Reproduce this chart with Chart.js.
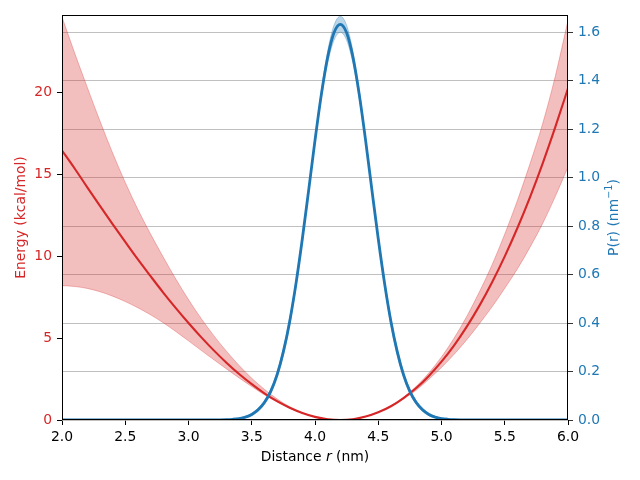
<!DOCTYPE html>
<html>
<head>
<meta charset="utf-8">
<script src="https://cdn.jsdelivr.net/npm/chart.js@4.4.1/dist/chart.umd.min.js"></script>
<style>
  body { margin: 0; background: #fff; }
  canvas { display: block; }
</style>
</head>
<body>
<canvas id="chart_pmf" width="640" height="480"></canvas>
<script>
// energy profile, sampled every 0.1 nm
const rValues = [2.0, 2.1, 2.2, 2.3, 2.4, 2.5, 2.6, 2.7, 2.8, 2.9,
                 3.0, 3.1, 3.2, 3.3, 3.4, 3.5, 3.6, 3.7, 3.8, 3.9,
                 4.0, 4.1, 4.2, 4.3, 4.4, 4.5, 4.6, 4.7, 4.8, 4.9,
                 5.0, 5.1, 5.2, 5.3, 5.4, 5.5, 5.6, 5.7, 5.8, 5.9, 6.0];
const energy = [16.45, 15.35, 14.20, 13.07, 11.96, 10.87, 9.80, 8.78, 7.78, 6.83,
                5.92, 5.06, 4.25, 3.50, 2.81, 2.19, 1.63, 1.15, 0.75, 0.43,
                0.19, 0.05, 0.00, 0.05, 0.21, 0.47, 0.84, 1.34, 1.95, 2.69,
                3.56, 4.56, 5.70, 6.98, 8.41, 9.99, 11.72, 13.61, 15.67, 17.89, 20.25];
const energyUpper = [24.6, 22.4, 20.3, 18.25, 16.3, 14.5, 12.85, 11.35, 9.95, 8.6,
                     7.35, 6.2, 5.15, 4.2, 3.33, 2.55, 1.87, 1.29, 0.81, 0.45,
                     0.19, 0.05, 0.00, 0.05, 0.21, 0.48, 0.86, 1.39, 2.05, 2.87,
                     3.85, 5.0, 6.33, 7.83, 9.48, 11.35, 13.4, 15.65, 18.1, 21.0, 24.4];
const energyLower = [8.20, 8.15, 8.03, 7.83, 7.56, 7.23, 6.85, 6.42, 5.94, 5.40,
                     4.83, 4.25, 3.68, 3.12, 2.57, 2.04, 1.54, 1.10, 0.73, 0.42,
                     0.19, 0.05, 0.00, 0.05, 0.21, 0.46, 0.82, 1.29, 1.82, 2.49,
                     3.21, 4.01, 4.90, 5.88, 6.91, 8.04, 9.22, 10.55, 12.0, 13.65, 15.45];

// distance distribution, finer sampling around the peak
const pR = [2.0, 3.0, 3.2, 3.25, 3.3, 3.35, 3.4, 3.45, 3.5, 3.55, 3.6, 3.65, 3.7, 3.75,
            3.8, 3.85, 3.9, 3.95, 4.0, 4.05, 4.1, 4.15, 4.2, 4.25, 4.3, 4.35, 4.4,
            4.45, 4.5, 4.55, 4.6, 4.65, 4.7, 4.75, 4.8, 4.85, 4.9, 4.95, 5.0, 5.05,
            5.1, 5.15, 5.2, 5.4, 6.0];
const prob = [0, 0, 0.0002, 0.0006, 0.0014, 0.003, 0.006, 0.012, 0.023, 0.042, 0.072, 0.118, 0.186, 0.282,
              0.407, 0.564, 0.748, 0.949, 1.154, 1.343, 1.497, 1.598, 1.633, 1.598, 1.497, 1.343, 1.154,
              0.949, 0.748, 0.564, 0.407, 0.282, 0.186, 0.118, 0.072, 0.042, 0.023, 0.012, 0.006, 0.003,
              0.0014, 0.0006, 0.0002, 0, 0];
const probUpper = [0, 0, 0.0003, 0.0008, 0.002, 0.004, 0.008, 0.015, 0.028, 0.049, 0.080, 0.128, 0.199, 0.297,
                   0.422, 0.577, 0.756, 0.951, 1.161, 1.359, 1.522, 1.629, 1.666, 1.629, 1.522, 1.359, 1.161,
                   0.951, 0.756, 0.577, 0.422, 0.297, 0.199, 0.128, 0.080, 0.049, 0.028, 0.015, 0.008, 0.004,
                   0.002, 0.0008, 0.0003, 0, 0];
const probLower = [0, 0, 0.0001, 0.0004, 0.0008, 0.002, 0.004, 0.009, 0.018, 0.035, 0.064, 0.108, 0.174, 0.267,
                   0.392, 0.551, 0.740, 0.947, 1.147, 1.327, 1.472, 1.567, 1.600, 1.567, 1.472, 1.327, 1.147,
                   0.947, 0.740, 0.551, 0.392, 0.267, 0.174, 0.108, 0.064, 0.035, 0.018, 0.009, 0.004, 0.002,
                   0.0008, 0.0004, 0.0001, 0, 0];

const xTicks = [2.0, 2.5, 3.0, 3.5, 4.0, 4.5, 5.0, 5.5, 6.0];
const energyTicks = [0, 5, 10, 15, 20];
const probTicks = [0.0, 0.2, 0.4, 0.6, 0.8, 1.0, 1.2, 1.4, 1.6];

const RED = "#d62728";
const BLUE = "#1f77b4";
const RED_BAND = "rgba(214,39,40,0.3)";
const BLUE_BAND = "rgba(31,119,180,0.3)";
const FONT = "'DejaVu Sans', 'Liberation Sans', sans-serif";

function pairs(xs, ys) {
  return xs.map((x, i) => ({ x: x, y: ys[i] }));
}

Chart.defaults.font.family = FONT;
Chart.defaults.font.size = 13.9;

// spines all round plus the axis titles (italic r, superscript, rotated right label)
const frameAndTitles = {
  id: "frameAndTitles",
  afterDatasetsDraw(chart) {
    const a = chart.chartArea;
    const ctx = chart.ctx;
    ctx.save();
    ctx.strokeStyle = "#000";
    ctx.lineWidth = 1;
    ctx.strokeRect(a.left + 0.5, a.top + 0.5, a.right - a.left - 1, a.bottom - a.top - 1);
    ctx.restore();
  },
  afterDraw(chart) {
    const a = chart.chartArea;
    const ctx = chart.ctx;
    const normal = "13.9px " + FONT;
    const italic = "italic 13.9px " + FONT;
    ctx.save();
    ctx.textBaseline = "middle";
    ctx.textAlign = "left";

    // x title
    const parts = [["Distance ", normal], ["r", italic], [" (nm)", normal]];
    let total = 0;
    parts.forEach(p => { ctx.font = p[1]; total += ctx.measureText(p[0]).width; });
    let x = (a.left + a.right) / 2 - total / 2;
    ctx.fillStyle = "#000";
    parts.forEach(p => { ctx.font = p[1]; ctx.fillText(p[0], x, 457); x += ctx.measureText(p[0]).width; });

    // left title
    const midY = (a.top + a.bottom) / 2;
    ctx.save();
    ctx.translate(21, midY);
    ctx.rotate(-Math.PI / 2);
    ctx.font = normal;
    ctx.textAlign = "center";
    ctx.fillStyle = RED;
    ctx.fillText("Energy (kcal/mol)", 0, 0);
    ctx.restore();

    // right title
    ctx.save();
    ctx.translate(614, midY);
    ctx.rotate(-Math.PI / 2);
    ctx.fillStyle = BLUE;
    const sup = "9.7px " + FONT;
    const rp = [["P(r) (nm", normal, 0], ["\u22121", sup, -5], [")", normal, 0]];
    total = 0;
    rp.forEach(p => { ctx.font = p[1]; total += ctx.measureText(p[0]).width; });
    x = -total / 2;
    rp.forEach(p => { ctx.font = p[1]; ctx.fillText(p[0], x, p[2]); x += ctx.measureText(p[0]).width; });
    ctx.restore();

    ctx.restore();
  }
};

const ctx = document.getElementById("chart_pmf").getContext("2d");

new Chart(ctx, {
  type: "line",
  data: {
    datasets: [
      { // 0
        label: "P(r)",
        data: pairs(pR, prob),
        yAxisID: "y2",
        borderColor: BLUE,
        borderWidth: 2.8,
        fill: false,
        order: 1
      },
      { // 1
        label: "P upper",
        data: pairs(pR, probUpper),
        yAxisID: "y2",
        borderColor: BLUE_BAND,
        backgroundColor: BLUE_BAND,
        borderWidth: 1,
        fill: 2,
        order: 2
      },
      { // 2
        label: "P lower",
        data: pairs(pR, probLower),
        yAxisID: "y2",
        borderColor: BLUE_BAND,
        borderWidth: 1,
        fill: false,
        order: 2
      },
      { // 3
        label: "Energy",
        data: pairs(rValues, energy),
        yAxisID: "y",
        borderColor: RED,
        borderWidth: 2.1,
        fill: false,
        order: 3
      },
      { // 4
        label: "E upper",
        data: pairs(rValues, energyUpper),
        yAxisID: "y",
        borderColor: RED_BAND,
        backgroundColor: RED_BAND,
        borderWidth: 1,
        fill: 5,
        order: 4
      },
      { // 5
        label: "E lower",
        data: pairs(rValues, energyLower),
        yAxisID: "y",
        borderColor: RED_BAND,
        borderWidth: 1,
        fill: false,
        order: 4
      }
    ]
  },
  options: {
    responsive: false,
    devicePixelRatio: 1,
    animation: false,
    layout: { padding: { top: 15, left: 0, right: 0, bottom: 0 } },
    elements: {
      point: { radius: 0 },
      line: { cubicInterpolationMode: "monotone" }
    },
    plugins: {
      legend: { display: false },
      tooltip: { enabled: false }
    },
    scales: {
      x: {
        type: "linear",
        position: "bottom",
        min: 2,
        max: 6,
        afterBuildTicks: s => { s.ticks = xTicks.map(v => ({ value: v })); },
        afterFit: s => { s.height = 60; },
        ticks: { color: "#000", padding: 4, maxRotation: 0, callback: v => v.toFixed(1) },
        grid: { drawOnChartArea: false, tickLength: 5, tickColor: "#000" },
        border: { display: false }
      },
      y: {
        position: "left",
        min: 0,
        max: 24.72,
        afterBuildTicks: s => { s.ticks = energyTicks.map(v => ({ value: v })); },
        afterFit: s => { s.width = 62; },
        ticks: { color: RED, padding: 5, callback: v => String(v) },
        grid: { drawOnChartArea: false, tickLength: 5, tickColor: "#000" },
        border: { display: false }
      },
      y2: {
        position: "right",
        min: 0,
        max: 1.6715,
        afterBuildTicks: s => { s.ticks = probTicks.map(v => ({ value: v })); },
        afterFit: s => { s.width = 72; },
        ticks: { color: BLUE, padding: 5, callback: v => v.toFixed(1) },
        grid: { color: "#b0b0b0", lineWidth: 0.8, tickLength: 5, tickColor: "#000" },
        border: { display: false }
      }
    }
  },
  plugins: [frameAndTitles]
});
</script>
</body>
</html>
